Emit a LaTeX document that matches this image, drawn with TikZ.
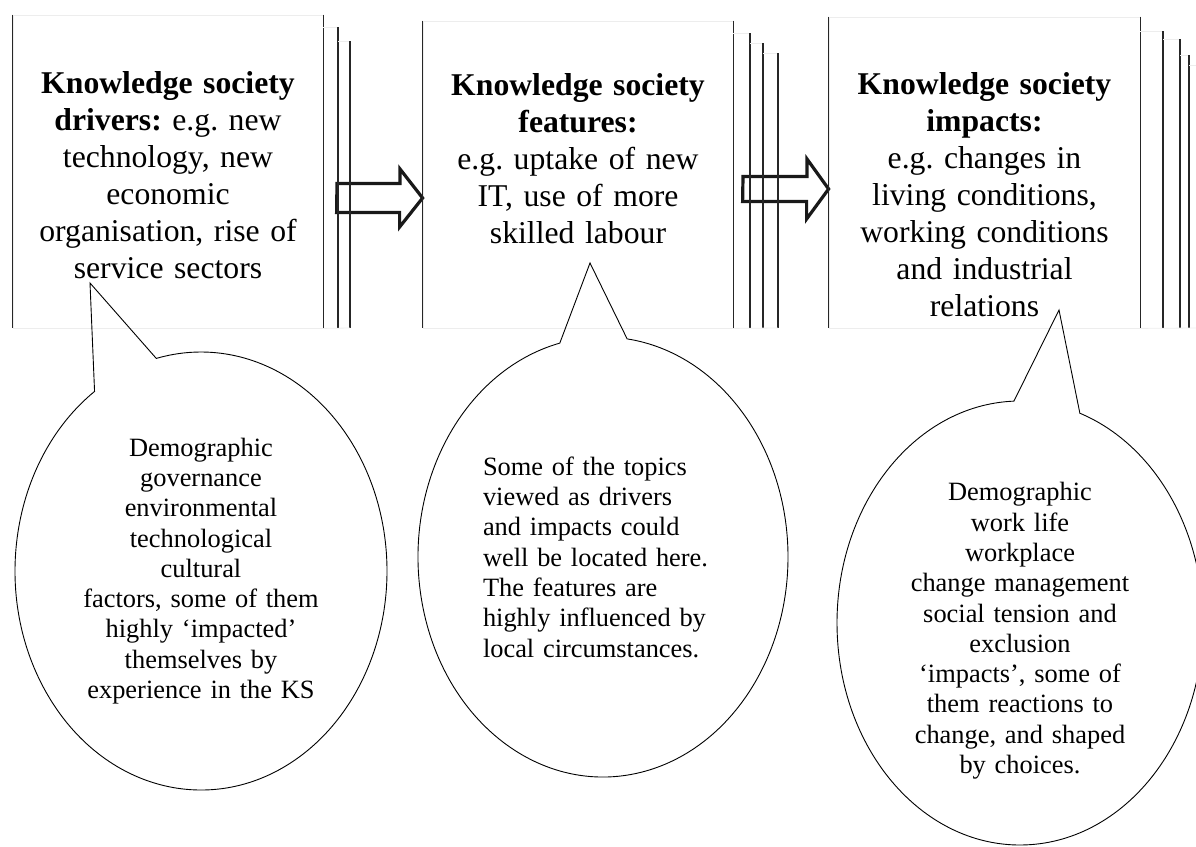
\documentclass[tikz,border=0pt]{standalone}
\usepackage{fontspec}
\setmainfont{Liberation Serif}
\usetikzlibrary{shapes.callouts, positioning}

\tikzset{
  pagebox/.style={draw=black!7, line width=0.8pt, inner sep=0pt},
  pageline/.style={line width=1.6pt, black!85},
  pageedge/.style={line width=0.8pt, black!7},
  blockarrow/.style={line width=3.2pt, line join=miter, black!90},
  boxtext/.style={inner sep=0pt, text width=300pt, align=center, font=\fontsize{31.7}{37}\selectfont\frenchspacing},
  bubble/.style={ellipse callout, draw, line width=0.9pt, inner sep=0pt, callout pointer arc=21, font=\fontsize{26.4}{30.3}\selectfont\frenchspacing},
}

\begin{document}
\begin{tikzpicture}[x=1pt, y=1pt]
    \useasboundingbox (0,0) rectangle (1196,-846);

    % the three stacks of pages
    \node[pagebox, minimum width=310pt, minimum height=313pt] (drivers) at (168,-171.5) {};
    \node[pagebox, minimum width=310pt, minimum height=307pt] (features) at (578,-174.5) {};
    \node[pagebox, minimum width=311pt, minimum height=311pt] (impacts) at (984.5,-172.5) {};

    \node[boxtext, below=57pt of drivers.north] (driverstext)
        {\textbf{Knowledge society}\\ \textbf{drivers:} e.g. new\\ technology, new\\ economic\\ organisation, rise of\\ service sectors};
    \node[boxtext, below=53pt of features.north] (featurestext)
        {\textbf{Knowledge society}\\ \textbf{features:}\\ e.g. uptake of new\\ IT, use of more\\ skilled labour};
    \node[boxtext, below=56pt of impacts.north] (impactstext)
        {\textbf{Knowledge society}\\ \textbf{impacts:}\\ e.g. changes in\\ living conditions,\\ working conditions\\ and industrial\\ relations};

    % block arrows between the stacks
    \coordinate (arr1tail) at (337,-198);
    \coordinate (arr2tail) at (743,-189);
    \draw[blockarrow] (arr1tail) ++(0,14.5) -- ++(63,0) -- ++(0,14.5) -- (features.west |- arr1tail)
        -- ++(-23,-29) -- ++(0,14.5) -- ++(-63,0) -- cycle;
    \draw[blockarrow] (arr2tail) ++(0,12.5) -- ++(64,0) -- ++(0,17.5) -- (impacts.west |- arr2tail)
        -- ++(-22,-30) -- ++(0,17.5) -- ++(-64,0) -- cycle;

    % page edges
    \foreach \b in {drivers, features, impacts}
        \draw[pageline] (\b.north west) -- (\b.south west) (\b.north east) -- (\b.south east);
    \foreach \p/\x/\t in {323/338/27, 338/350/41, 733/750/33, 750/763/43, 763/778/53, 1140/1163/31, 1163/1180/39, 1180/1189/55} {
        \draw[pageedge] (\p,-\t) -- (\x,-\t);
        \draw[pageline] (\x,-\t) -- (\x,-328);
    }
    \draw[pageedge] (1189,-65) -- (1196,-65);
    \draw[pageedge] (drivers.south east) -- (350,-328) (features.south east) -- (778,-328) (impacts.south east) -- (1196,-328);

    % callouts
    \coordinate (driverstip) at (90,-283);
    \coordinate (featurestip) at (590,-263);
    \coordinate (impactstip) at (1059,-310);

    \node[bubble, minimum width=372pt, minimum height=438pt, text width=240pt, align=center,
          callout absolute pointer={(driverstip)}] (driversnote) at (201,-571)
        {Demographic\\ governance\\ environmental\\ technological\\ cultural\\ factors, some of them\\ highly `impacted'\\ themselves by\\ experience in the KS};
    \node[bubble, minimum width=370pt, minimum height=440pt, text width=240pt, align=left,
          callout absolute pointer={(featurestip)}] (featuresnote) at (603,-557)
        {Some of the topics\\ viewed as drivers\\ and impacts could\\ well be located here.\\ The features are\\ highly influenced by\\ local circumstances.};
    \node[bubble, minimum width=366pt, minimum height=444pt, text width=230pt, align=center,
          callout absolute pointer={(impactstip)}] (impactsnote) at (1020,-623)
        {\rule{0pt}{34pt}Demographic\\ work life\\ workplace\\ change management\\ social tension and\\ exclusion\\ `impacts', some of\\ them reactions to\\ change, and shaped\\ by choices.};
\end{tikzpicture}
\end{document}
